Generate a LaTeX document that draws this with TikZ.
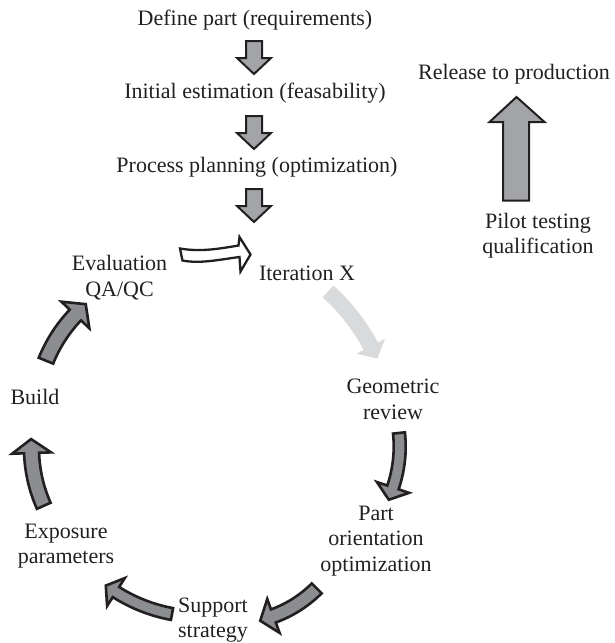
\documentclass[tikz,border=0pt]{standalone}
\usepackage{fontspec}
\setmainfont{Liberation Serif}
\definecolor{arrowgray}{RGB}{140,141,144}
\definecolor{stepgray}{RGB}{163,164,167}
\definecolor{palegray}{RGB}{217,218,219}
\definecolor{inkgray}{RGB}{35,31,32}
% curved block arrow on a circular arc:
% #1 style, #2 centre, #3 radius, #4 start angle, #5 end angle,
% #6 shaft half width, #7 head half width, #8 head length
\newcommand\cyclearrow[8]{%
  \path[#1, shift={#2}]
    ({#4}:{#3+#6}) arc[start angle={#4}, end angle={#5}, radius={#3+#6}]
    -- ({#5}:{#3+#7}) -- ({#5+atan(#8/#3)}:{veclen(#3,#8)})
    -- ({#5}:{#3-#7}) -- ({#5}:{#3-#6})
    arc[start angle={#5}, end angle={#4}, radius={#3-#6}] -- cycle;}
% short straight arrow pointing down: #1 axis x, #2 top of shaft
\newcommand\blockdown[2]{%
  \path[stepdown] ({#1-8},{#2}) -- ({#1+8},{#2}) -- ({#1+8},{#2+17})
    -- ({#1+17},{#2+17}) -- ({#1},{#2+33}) -- ({#1-17},{#2+17})
    -- ({#1-8},{#2+17}) -- cycle;}
\begin{document}
\begin{tikzpicture}[x=1pt,y=1pt,yscale=-1,
  lbl/.style={font=\fontsize{22}{25.5}\selectfont, text=inkgray, align=center, inner sep=0pt},
  darkarrow/.style={fill=arrowgray, draw=inkgray, line width=2.6pt, line join=miter},
  paleflow/.style={fill=palegray},
  hollow/.style={fill=white, draw=inkgray, line width=2.3pt, line join=miter},
  stepdown/.style={fill=stepgray, draw=inkgray, line width=2pt, line join=miter}]
\useasboundingbox (0,0) rectangle (614,643);

% linear sequence at the top
\node[lbl] (define) at (255,20) {Define part (requirements)};
\node[lbl] (init) at (255,93) {Initial estimation (feasability)};
\node[lbl] (plan) at (257,167) {Process planning (optimization)};
\blockdown{254}{41}
\blockdown{254}{116}
\blockdown{254}{189}

% release branch
\node[lbl] (release) at (514,74) {Release to production};
\node[lbl] (pilot) at (538,235.5) {Pilot testing\\qualification};
\path[stepdown] (503,200.5) -- (529,200.5) -- (529,122) -- (544.5,122)
  -- (516.5,97) -- (489.5,122) -- (503,122) -- cycle;

% iteration cycle
\node[lbl] (iter) at (307,273) {Iteration X};
\node[lbl] (geo) at (393,399.5) {Geometric\\review};
\node[lbl] (orient) at (376,541) {Part\\orientation\\optimization};
\node[lbl] (support) at (213,620) {Support\\strategy};
\node[lbl] (expo) at (66,546) {Exposure\\parameters};
\node[lbl] (build) at (35,397) {Build};
\node[lbl] (eval) at (119.5,277.5) {Evaluation\\QA/QC};

\cyclearrow{paleflow}{(194.2,440.1)}{200}{-48}{-28}{8}{16}{14}
\cyclearrow{darkarrow}{(271.1,446.4)}{128.6}{-6}{18.6}{6}{17}{13}
\cyclearrow{darkarrow}{(232.8,504.4)}{118.7}{45}{70}{7}{18}{14}
\cyclearrow{darkarrow}{(200.5,458.8)}{157.8}{100.4}{122.4}{6}{16.5}{12}
\cyclearrow{darkarrow}{(173.3,448.1)}{141.8}{156}{178}{7.5}{19.5}{14}
\cyclearrow{darkarrow}{(180.4,415)}{145}{202}{223.6}{7.8}{19.3}{15}

% hollow arrow closing the loop
\path[hollow] (180,248.5) .. controls (200,252) and (218,249) .. (238.5,245.5)
  -- (239.5,237) -- (250.5,254.5) -- (240.5,271.5) -- (239.5,257)
  .. controls (220,259.5) and (200,264) .. (182.5,260.5) -- cycle;
\end{tikzpicture}
\end{document}
